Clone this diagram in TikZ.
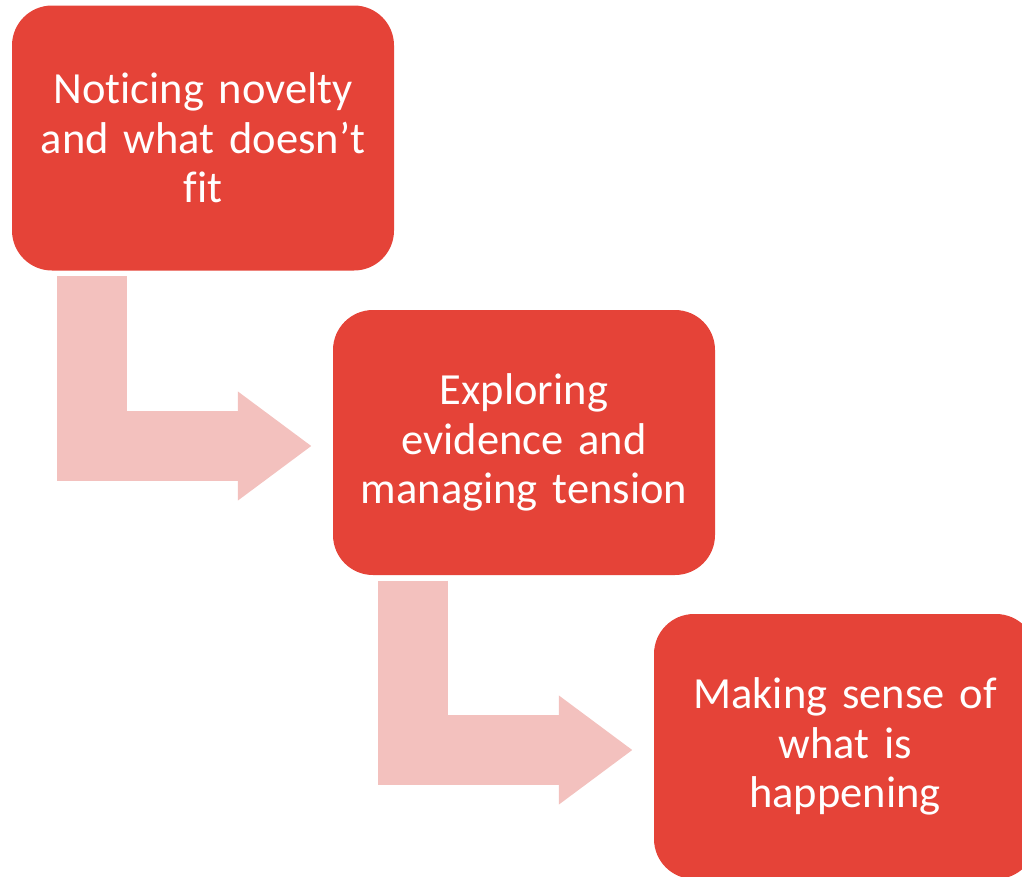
\documentclass[tikz,border=0pt]{standalone}
\usepackage{fontspec}
\setmainfont{Carlito}[Ligatures={TeX,NoCommon},WordSpace=0.85]
\usetikzlibrary{positioning,arrows.meta}
\definecolor{stagered}{RGB}{229,67,56}
\definecolor{stagepink}{RGB}{243,193,190}

\begin{document}
\begin{tikzpicture}[x=1pt,y=1pt,
    stagebox/.style={fill=stagered,rounded corners=40pt,minimum width=382pt,
        minimum height=265pt,inner sep=0pt,text width=360pt,align=center,
        text=white,font=\fontsize{44.5}{49.5}\selectfont},
    bentarrow/.style={draw=stagepink,line width=70pt,line join=miter,
        -{Triangle[length=74pt,width=104pt]}}]
    \clip (0,0) rectangle (1022,-876);
    % three stages, going down to the right
    \node[stagebox] (notice) at (203,-138) {Noticing novelty\\and what doesn’t\\fit};
    \node[stagebox] (explore) at (524,-442.5) {Exploring\\evidence and\\managing tension};
    \node[stagebox] (sense) at (845,-746.5) {Making sense of\\what is\\happening};
    % bent arrows between them
    \coordinate (down1) at ([xshift=80pt,yshift=-5.5pt]notice.south west);
    \coordinate (down2) at ([xshift=80pt,yshift=-5.5pt]explore.south west);
    \draw[bentarrow] (down1) |- ([xshift=-21pt,yshift=-3.5pt]explore.west);
    \draw[bentarrow] (down2) |- ([xshift=-21pt,yshift=-3.5pt]sense.west);
\end{tikzpicture}
\end{document}
